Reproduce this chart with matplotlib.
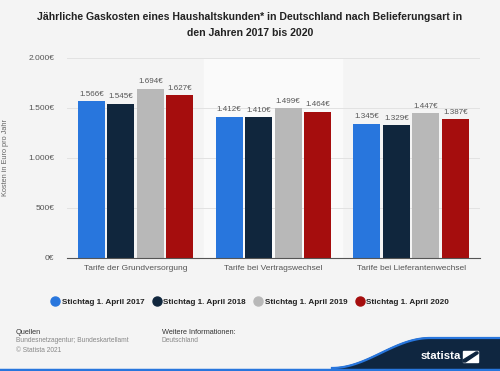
import numpy as np
import matplotlib.pyplot as plt
from matplotlib.patches import Polygon

plt.rcParams['font.family'] = ['Liberation Sans', 'DejaVu Sans']

categories = ["Tarife der Grundversorgung", "Tarife bei Vertragswechsel", "Tarife bei Lieferantenwechsel"]
series = ["Stichtag 1. April 2017", "Stichtag 1. April 2018", "Stichtag 1. April 2019", "Stichtag 1. April 2020"]
v2017 = [1566, 1412, 1345]
v2018 = [1545, 1410, 1329]
v2019 = [1694, 1499, 1447]
v2020 = [1627, 1464, 1387]
colors = ["#2876dd", "#10263d", "#b8b8b8", "#a50d0d"]

bg = "#f4f4f4"
fig = plt.figure(figsize=(5, 3.71), dpi=100, facecolor=bg)
ax = fig.add_axes([66.7 / 500, 1 - 258 / 371, 413.3 / 500, 200 / 371])
ax.set_facecolor(bg)

x = np.arange(len(categories))
w = 0.196
pitch = 0.214
for i, (vals, c) in enumerate(zip([v2017, v2018, v2019, v2020], colors)):
    xs = x + (i - 1.5) * pitch
    bars = ax.bar(xs, vals, w, color=c, zorder=3, label=series[i])
    for b, v in zip(bars, vals):
        lbl = "{:,}€".format(v).replace(",", ".")
        ax.text(b.get_x() + w / 2, v + 35, lbl, ha="center", va="bottom",
                fontsize=5.8, color="#555555", zorder=4)

# lighter band behind middle group
ax.axvspan(0.5, 1.5, color="#fafafa", zorder=0)

ax.set_xlim(-0.5, 2.5)
ax.set_ylim(0, 2000)
ax.set_yticks([0, 500, 1000, 1500, 2000])
ax.set_yticklabels(["0€", "500€", "1.000€", "1.500€", "2.000€"])
ax.yaxis.grid(True, color="#e2e2e2", lw=0.7, zorder=1)
ax.set_xticks(x)
ax.set_xticklabels(categories)
ax.tick_params(axis="both", length=0, labelsize=6, labelcolor="#555555")
ax.tick_params(axis="x", pad=5)
ax.tick_params(axis="y", pad=9)
for s in ["top", "right", "left"]:
    ax.spines[s].set_visible(False)
ax.spines["bottom"].set_color("#555555")
ax.spines["bottom"].set_linewidth(0.8)
ax.spines["bottom"].set_zorder(5)
ax.set_ylabel("Kosten in Euro pro Jahr", fontsize=5.3, color="#666666", labelpad=14)

fig.text(0.5, 1 - 24.5 / 371, "Jährliche Gaskosten eines Haushaltskunden* in Deutschland nach Belieferungsart in\nden Jahren 2017 bis 2020",
         ha="center", va="center", fontsize=7.55, fontweight="bold", color="#222222", linespacing=1.75)

# legend
handles = [plt.Line2D([], [], marker="o", ls="", color=c, markersize=6.5) for c in colors]
fig.legend(handles, series, loc="center", bbox_to_anchor=(0.5, 1 - 302 / 371), ncol=4,
           frameon=False, prop={"weight": "bold", "size": 5.9}, handletextpad=0.3,
           columnspacing=1.0, handlelength=1.0, labelcolor="#222222")

# footer
fig.text(16 / 500, 1 - 332 / 371, "Quellen", fontsize=5.3, color="#333333", va="center")
fig.text(16 / 500, 1 - 341 / 371, "Bundesnetzagentur; Bundeskartellamt", fontsize=4.8, color="#888888", va="center")
fig.text(16 / 500, 1 - 350 / 371, "© Statista 2021", fontsize=4.8, color="#888888", va="center")
fig.text(162 / 500, 1 - 332 / 371, "Weitere Informationen:", fontsize=5.3, color="#333333", va="center")
fig.text(162 / 500, 1 - 341 / 371, "Deutschland", fontsize=4.8, color="#888888", va="center")

# statista logo wave
ov = fig.add_axes([0, 0, 1, 1], facecolor="none")
ov.set_xlim(0, 500)
ov.set_ylim(371, 0)
ov.axis("off")
t = np.linspace(0, 1, 60)
wx = 332 + 98 * t
wy = 368 - 30 * (0.5 - 0.5 * np.cos(np.pi * t))
pts = list(zip(wx, wy)) + [(500, 338), (500, 371), (332, 371)]
ov.add_patch(Polygon(pts, closed=True, color="#0f2640", zorder=1))
ov.plot(list(wx) + [500], list(wy) + [338], color="#2876dd", lw=1.6, zorder=2)
ov.plot([0, 500], [369.5, 369.5], color="#2876dd", lw=2.5, zorder=2)
ov.text(441, 356, "statista", color="white", fontsize=8.2, fontweight="bold",
        ha="center", va="center", zorder=3)
ov.add_patch(Polygon([(463, 351), (478, 351), (478, 362), (463, 362)], closed=True,
                     color="white", zorder=3))
ov.add_patch(Polygon([(463, 360), (476, 352), (478, 352), (478, 353.5), (465.5, 362), (463, 362)],
                     closed=True, color="#0f2640", zorder=4))

fig.savefig("out.png", dpi=100, facecolor=bg)
